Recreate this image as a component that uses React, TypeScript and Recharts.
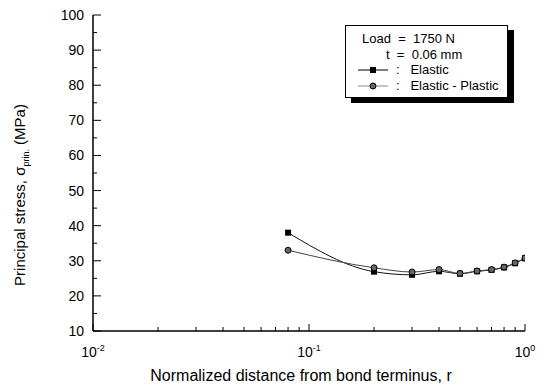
import { LineChart, Line, XAxis, YAxis } from "recharts";

// distance r (normalized) and principal stress (MPa)
const distance = [0.08, 0.2, 0.3, 0.4, 0.5, 0.6, 0.7, 0.8, 0.9, 1.0];
const elastic = [38, 26.9, 26.0, 27.0, 26.3, 27.0, 27.4, 28.1, 29.3, 30.7];
const elasticPlastic = [33, 28.0, 26.8, 27.5, 26.4, 27.1, 27.5, 28.2, 29.4, 30.8];

const xMajor = [0.01, 0.1, 1];
const xMinor = [0.02, 0.03, 0.04, 0.05, 0.06, 0.07, 0.08, 0.09, 0.2, 0.3, 0.4, 0.5, 0.6, 0.7, 0.8, 0.9];
const xExp = ["-2", "-1", "0"];
const yMajor = [10, 20, 30, 40, 50, 60, 70, 80, 90, 100];
const yMinor = [15, 25, 35, 45, 55, 65, 75, 85, 95];

const data = distance.map((r, i) => ({ r, elastic: elastic[i], ep: elasticPlastic[i] }));

const FONT = "'Liberation Sans', Arial, sans-serif";

const XTick = (props: any) => {
  const { x, y, payload } = props;
  const idx = xMajor.indexOf(payload.value);
  const len = idx >= 0 ? 7 : 4;
  return (
    <g>
      <line x1={x} x2={x} y1={y} y2={y - len} stroke="#000" />
      {idx >= 0 && (
        <text x={x} y={y + 26} textAnchor="middle" fontSize={14} fill="#000" fontFamily={FONT}>
          10<tspan dy={-6} fontSize={9}>{xExp[idx]}</tspan>
        </text>
      )}
    </g>
  );
};

const YTick = (props: any) => {
  const { x, y, payload } = props;
  const major = yMajor.includes(payload.value);
  const len = major ? 8 : 4;
  return (
    <g>
      <line x1={x} x2={x + len} y1={y} y2={y} stroke="#000" />
      {major && (
        <text x={x - 9} y={y + 5} textAnchor="end" fontSize={14} fill="#000" fontFamily={FONT}>
          {payload.value}
        </text>
      )}
    </g>
  );
};

const YTickRight = (props: any) => {
  const { x, y, payload } = props;
  const len = yMajor.includes(payload.value) ? 8 : 4;
  return <line x1={x} x2={x - len} y1={y} y2={y} stroke="#000" />;
};

const SquareDot = (props: any) => {
  const { cx, cy, index } = props;
  return <rect key={`s${index}`} x={cx - 3} y={cy - 3} width={6} height={6} fill="#000" />;
};

const CircleDot = (props: any) => {
  const { cx, cy, index } = props;
  return <circle key={`c${index}`} cx={cx} cy={cy} r={3} fill="#666" stroke="#000" strokeWidth={1} />;
};

function Legend() {
  const row = { position: "absolute" as const, fontSize: 13, lineHeight: "14px", whiteSpace: "pre" as const };
  return (
    <div
      style={{
        position: "absolute",
        left: 345,
        top: 25,
        width: 161,
        height: 71,
        border: "1px solid #000",
        background: "#fff",
        boxShadow: "6px 5px 0 #000",
        fontFamily: FONT,
        color: "#000",
      }}
    >
      <div style={{ ...row, left: 16, top: 6 }}>Load  =  1750 N</div>
      <div style={{ ...row, left: 40, top: 21.5 }}>t  =  0.06 mm</div>
      <svg style={{ position: "absolute", left: 12, top: 37 }} width={32} height={32}>
        <line x1={0} x2={30} y1={7} y2={7} stroke="#000" />
        <rect x={12} y={4} width={6} height={6} fill="#000" />
        <line x1={0} x2={30} y1={23} y2={23} stroke="#888" />
        <circle cx={15} cy={23} r={3} fill="#666" stroke="#000" />
      </svg>
      <div style={{ ...row, left: 50, top: 37 }}>:   Elastic</div>
      <div style={{ ...row, left: 50, top: 53 }}>:   Elastic - Plastic</div>
    </div>
  );
}

export default function App() {
  return (
    <div style={{ position: "absolute", left: 0, top: 0, width: 547, height: 388, background: "#fff" }}>
      <LineChart width={547} height={388} data={data} margin={{ top: 15, right: 22, bottom: 0, left: 0 }}>
        <XAxis
          dataKey="r"
          type="number"
          scale="log"
          domain={[0.01, 1]}
          allowDataOverflow
          ticks={[...xMajor, ...xMinor]}
          interval={0}
          tick={<XTick />}
          tickLine={false}
          tickSize={0}
          tickMargin={0}
          height={57}
          axisLine={{ stroke: "#000", strokeWidth: 1.5 }}
        />
        <XAxis
          xAxisId="top"
          orientation="top"
          type="number"
          scale="log"
          domain={[0.01, 1]}
          allowDataOverflow
          tick={false}
          tickLine={false}
          height={0}
          axisLine={{ stroke: "#000", strokeWidth: 1.5 }}
        />
        <YAxis
          type="number"
          domain={[10, 100]}
          allowDataOverflow
          ticks={[...yMajor, ...yMinor]}
          interval={0}
          tick={<YTick />}
          tickLine={false}
          tickSize={0}
          tickMargin={0}
          width={93}
          axisLine={{ stroke: "#000", strokeWidth: 1.5 }}
        />
        <YAxis
          yAxisId="right"
          orientation="right"
          type="number"
          domain={[10, 100]}
          allowDataOverflow
          ticks={[...yMajor, ...yMinor]}
          interval={0}
          tick={<YTickRight />}
          tickLine={false}
          tickSize={0}
          tickMargin={0}
          width={0}
          axisLine={{ stroke: "#000", strokeWidth: 1.5 }}
        />
        <Line
          dataKey="elastic"
          type="monotone"
          stroke="#111"
          strokeWidth={1}
          dot={<SquareDot />}
          isAnimationActive={false}
        />
        <Line
          dataKey="ep"
          type="monotone"
          stroke="#444"
          strokeWidth={1}
          dot={<CircleDot />}
          isAnimationActive={false}
        />
        <text x={301} y={381} textAnchor="middle" fontSize={16} fontFamily={FONT} fill="#000">
          Normalized distance from bond terminus, r
        </text>
        <text transform="translate(25,195) rotate(-90)" textAnchor="middle" fontSize={15} fontFamily={FONT} fill="#000">
          Principal stress, σ<tspan dy={4} fontSize={9}>prin.</tspan>
          <tspan dy={-4}>  (MPa)</tspan>
        </text>
      </LineChart>
      <Legend />
    </div>
  );
}
